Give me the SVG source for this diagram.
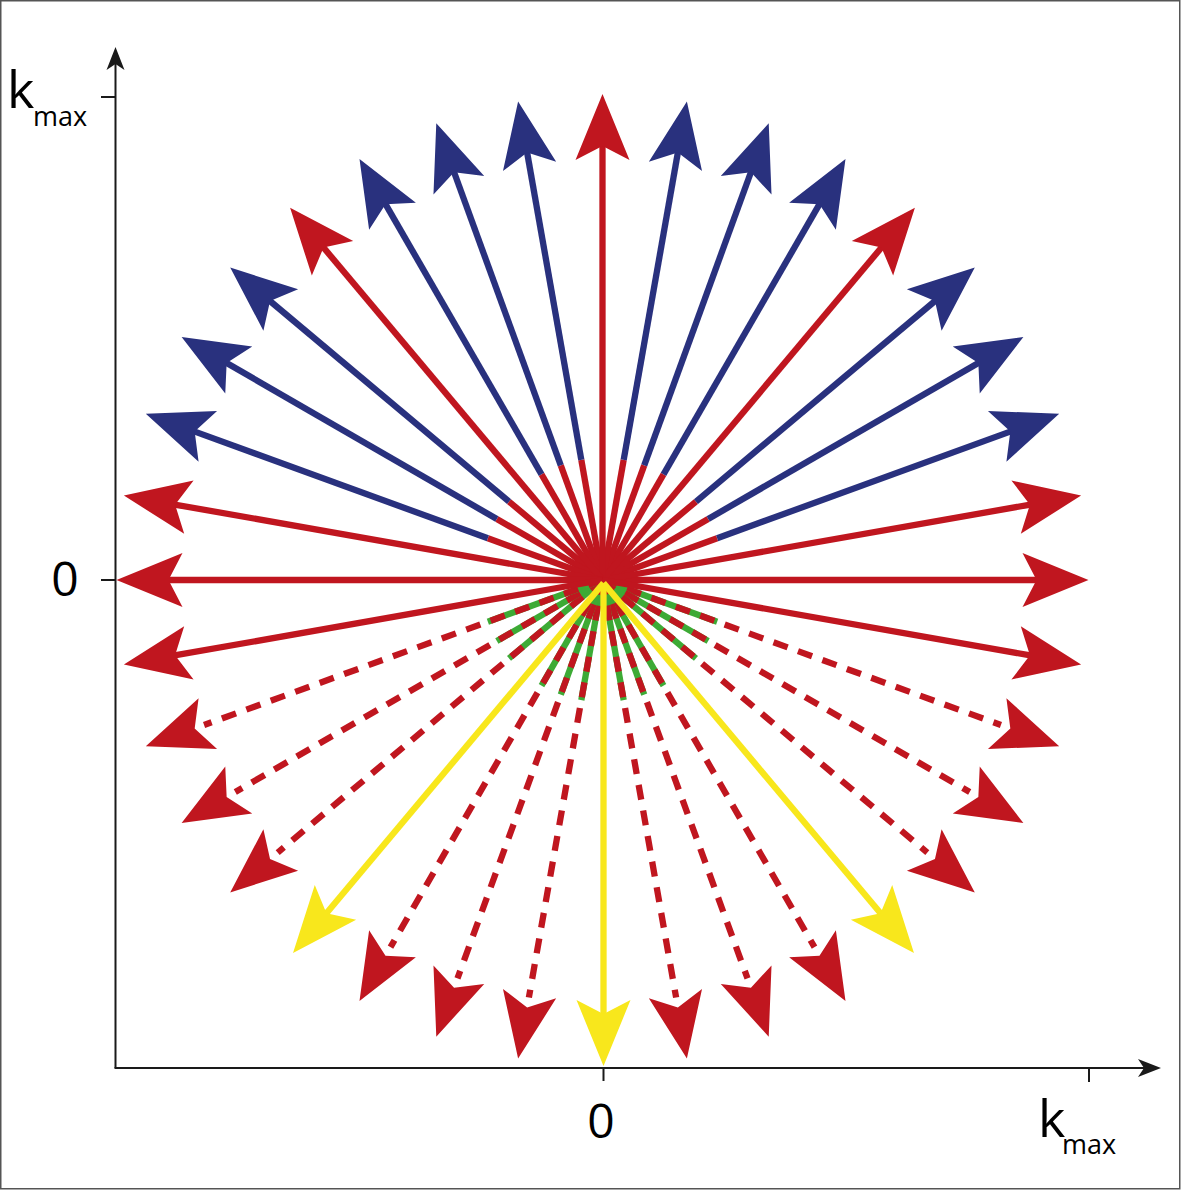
<svg xmlns="http://www.w3.org/2000/svg" xmlns:xlink="http://www.w3.org/1999/xlink" width="1181" height="1190" viewBox="0 0 1181 1190">
<style>
.r{stroke:#C0161F;stroke-width:6.3;fill:none}
.b{stroke:#29317E;stroke-width:6.3;fill:none}
.y{stroke:#F8E71C;stroke-width:6.3;fill:none}
.g{stroke:#3DAA35;stroke-width:6.3;fill:none}
.d{stroke:#C0161F;stroke-width:6.3;fill:none;stroke-dasharray:15 11}
.fr{fill:#C0161F}
.fb{fill:#29317E}
.fy{fill:#F8E71C}
.ax{stroke:#1a1a1a;stroke-width:2;fill:none}
.t{font-family:"Open Sans","Liberation Sans",sans-serif;fill:#000}
</style>
<defs>
<polygon id="head" points="486,0 420,-27 434,0 420,27"/>
</defs>
<rect x="0.75" y="0.75" width="1179" height="1188" fill="#fff" stroke="#555" stroke-width="1.5"/>

<g id="axes">
<line class="ax" x1="115.5" y1="1068" x2="115.5" y2="62"/>
<polygon fill="#1a1a1a" points="115.5,47 106.5,70 115.5,64 124.5,70"/>
<line class="ax" x1="114.5" y1="1068" x2="1145" y2="1068"/>
<polygon fill="#1a1a1a" points="1161,1068 1138,1059 1144,1068 1138,1077"/>
<line class="ax" x1="101" y1="97" x2="115" y2="97"/>
<line class="ax" x1="101" y1="580" x2="115" y2="580"/>
<line class="ax" x1="603.5" y1="1068" x2="603.5" y2="1081"/>
<line class="ax" x1="1089" y1="1068" x2="1089" y2="1082"/>
</g>

<g id="labels">
<text class="t" x="7" y="108" font-size="52">k</text>
<text class="t" x="33" y="126" font-size="27">max</text>
<text class="t" x="1038" y="1137" font-size="52">k</text>
<text class="t" x="1062" y="1154" font-size="27">max</text>
<text class="t" x="65" y="596" font-size="48" text-anchor="middle">0</text>
<text class="t" x="601" y="1138" font-size="48" text-anchor="middle">0</text>
</g>

<g id="connectors">
<g id="a-20" transform="translate(602.5,580) rotate(20)"><line class="g" x1="0" y1="0" x2="122" y2="0"/><line class="d" x1="0" y1="0" x2="424" y2="0"/><use xlink:href="#head" class="fr"/></g>
<g id="a-30" transform="translate(602.5,580) rotate(30)"><line class="g" x1="0" y1="0" x2="122" y2="0"/><line class="d" x1="0" y1="0" x2="424" y2="0"/><use xlink:href="#head" class="fr"/></g>
<g id="a-40" transform="translate(602.5,580) rotate(40)"><line class="g" x1="0" y1="0" x2="122" y2="0"/><line class="d" x1="0" y1="0" x2="424" y2="0"/><use xlink:href="#head" class="fr"/></g>
<g id="a-60" transform="translate(602.5,580) rotate(60)"><line class="g" x1="0" y1="0" x2="122" y2="0"/><line class="d" x1="0" y1="0" x2="424" y2="0"/><use xlink:href="#head" class="fr"/></g>
<g id="a-70" transform="translate(602.5,580) rotate(70)"><line class="g" x1="0" y1="0" x2="122" y2="0"/><line class="d" x1="0" y1="0" x2="424" y2="0"/><use xlink:href="#head" class="fr"/></g>
<g id="a-80" transform="translate(602.5,580) rotate(80)"><line class="g" x1="0" y1="0" x2="122" y2="0"/><line class="d" x1="0" y1="0" x2="424" y2="0"/><use xlink:href="#head" class="fr"/></g>
<g id="a-100" transform="translate(602.5,580) rotate(100)"><line class="g" x1="0" y1="0" x2="122" y2="0"/><line class="d" x1="0" y1="0" x2="424" y2="0"/><use xlink:href="#head" class="fr"/></g>
<g id="a-110" transform="translate(602.5,580) rotate(110)"><line class="g" x1="0" y1="0" x2="122" y2="0"/><line class="d" x1="0" y1="0" x2="424" y2="0"/><use xlink:href="#head" class="fr"/></g>
<g id="a-120" transform="translate(602.5,580) rotate(120)"><line class="g" x1="0" y1="0" x2="122" y2="0"/><line class="d" x1="0" y1="0" x2="424" y2="0"/><use xlink:href="#head" class="fr"/></g>
<g id="a-140" transform="translate(602.5,580) rotate(140)"><line class="g" x1="0" y1="0" x2="122" y2="0"/><line class="d" x1="0" y1="0" x2="424" y2="0"/><use xlink:href="#head" class="fr"/></g>
<g id="a-150" transform="translate(602.5,580) rotate(150)"><line class="g" x1="0" y1="0" x2="122" y2="0"/><line class="d" x1="0" y1="0" x2="424" y2="0"/><use xlink:href="#head" class="fr"/></g>
<g id="a-160" transform="translate(602.5,580) rotate(160)"><line class="g" x1="0" y1="0" x2="122" y2="0"/><line class="d" x1="0" y1="0" x2="424" y2="0"/><use xlink:href="#head" class="fr"/></g>

<g id="a20" transform="translate(602.5,580) rotate(-20)"><line class="r" x1="0" y1="0" x2="122" y2="0"/><line class="b" x1="122" y1="0" x2="436" y2="0"/><use xlink:href="#head" class="fb"/></g>
<g id="a30" transform="translate(602.5,580) rotate(-30)"><line class="r" x1="0" y1="0" x2="122" y2="0"/><line class="b" x1="122" y1="0" x2="436" y2="0"/><use xlink:href="#head" class="fb"/></g>
<g id="a40" transform="translate(602.5,580) rotate(-40)"><line class="r" x1="0" y1="0" x2="122" y2="0"/><line class="b" x1="122" y1="0" x2="436" y2="0"/><use xlink:href="#head" class="fb"/></g>
<g id="a60" transform="translate(602.5,580) rotate(-60)"><line class="r" x1="0" y1="0" x2="122" y2="0"/><line class="b" x1="122" y1="0" x2="436" y2="0"/><use xlink:href="#head" class="fb"/></g>
<g id="a70" transform="translate(602.5,580) rotate(-70)"><line class="r" x1="0" y1="0" x2="122" y2="0"/><line class="b" x1="122" y1="0" x2="436" y2="0"/><use xlink:href="#head" class="fb"/></g>
<g id="a80" transform="translate(602.5,580) rotate(-80)"><line class="r" x1="0" y1="0" x2="122" y2="0"/><line class="b" x1="122" y1="0" x2="436" y2="0"/><use xlink:href="#head" class="fb"/></g>
<g id="a100" transform="translate(602.5,580) rotate(-100)"><line class="r" x1="0" y1="0" x2="122" y2="0"/><line class="b" x1="122" y1="0" x2="436" y2="0"/><use xlink:href="#head" class="fb"/></g>
<g id="a110" transform="translate(602.5,580) rotate(-110)"><line class="r" x1="0" y1="0" x2="122" y2="0"/><line class="b" x1="122" y1="0" x2="436" y2="0"/><use xlink:href="#head" class="fb"/></g>
<g id="a120" transform="translate(602.5,580) rotate(-120)"><line class="r" x1="0" y1="0" x2="122" y2="0"/><line class="b" x1="122" y1="0" x2="436" y2="0"/><use xlink:href="#head" class="fb"/></g>
<g id="a140" transform="translate(602.5,580) rotate(-140)"><line class="r" x1="0" y1="0" x2="122" y2="0"/><line class="b" x1="122" y1="0" x2="436" y2="0"/><use xlink:href="#head" class="fb"/></g>
<g id="a150" transform="translate(602.5,580) rotate(-150)"><line class="r" x1="0" y1="0" x2="122" y2="0"/><line class="b" x1="122" y1="0" x2="436" y2="0"/><use xlink:href="#head" class="fb"/></g>
<g id="a160" transform="translate(602.5,580) rotate(-160)"><line class="r" x1="0" y1="0" x2="122" y2="0"/><line class="b" x1="122" y1="0" x2="436" y2="0"/><use xlink:href="#head" class="fb"/></g>

<g id="a0" transform="translate(602.5,580) rotate(0)"><line class="r" x1="0" y1="0" x2="436" y2="0"/><use xlink:href="#head" class="fr"/></g>
<g id="a10" transform="translate(602.5,580) rotate(-10)"><line class="r" x1="0" y1="0" x2="436" y2="0"/><use xlink:href="#head" class="fr"/></g>
<g id="a50" transform="translate(602.5,580) rotate(-50)"><line class="r" x1="0" y1="0" x2="436" y2="0"/><use xlink:href="#head" class="fr"/></g>
<g id="a90" transform="translate(602.5,580) rotate(-90)"><line class="r" x1="0" y1="0" x2="436" y2="0"/><use xlink:href="#head" class="fr"/></g>
<g id="a130" transform="translate(602.5,580) rotate(-130)"><line class="r" x1="0" y1="0" x2="436" y2="0"/><use xlink:href="#head" class="fr"/></g>
<g id="a170" transform="translate(602.5,580) rotate(-170)"><line class="r" x1="0" y1="0" x2="436" y2="0"/><use xlink:href="#head" class="fr"/></g>
<g id="a180" transform="translate(602.5,580) rotate(180)"><line class="r" x1="0" y1="0" x2="436" y2="0"/><use xlink:href="#head" class="fr"/></g>
<g id="a-10" transform="translate(602.5,580) rotate(10)"><line class="r" x1="0" y1="0" x2="436" y2="0"/><use xlink:href="#head" class="fr"/></g>
<g id="a-170" transform="translate(602.5,580) rotate(170)"><line class="r" x1="0" y1="0" x2="436" y2="0"/><use xlink:href="#head" class="fr"/></g>

<g id="a-50" transform="translate(603.5,583) rotate(50)"><line class="y" x1="0" y1="0" x2="433" y2="0"/><use xlink:href="#head" class="fy" transform="translate(-3,0)"/></g>
<g id="a-90" transform="translate(603.5,583) rotate(90)"><line class="y" x1="0" y1="0" x2="433" y2="0"/><use xlink:href="#head" class="fy" transform="translate(-3,0)"/></g>
<g id="a-130" transform="translate(603.5,583) rotate(130)"><line class="y" x1="0" y1="0" x2="433" y2="0"/><use xlink:href="#head" class="fy" transform="translate(-3,0)"/></g>
</g>
</svg>
